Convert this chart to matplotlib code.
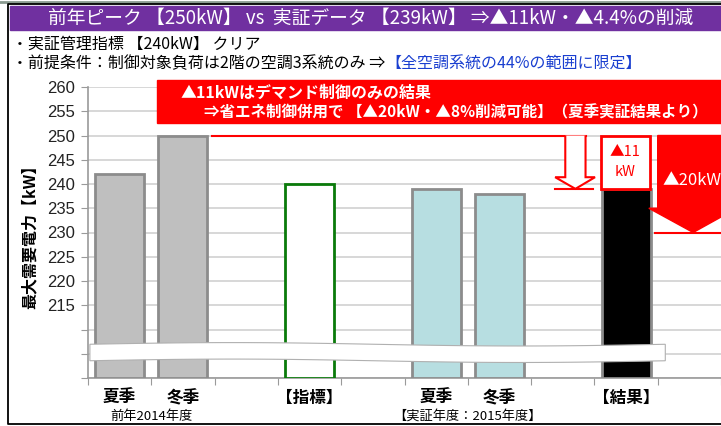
import numpy as np
import matplotlib
matplotlib.use("Agg")
import matplotlib.pyplot as plt
from matplotlib.patches import Rectangle, Polygon

plt.rcParams["font.family"] = ["Noto Sans CJK JP", "DejaVu Sans"]

# chart data
CATEGORIES = ["夏季", "冬季", "", "【指標】", "", "夏季", "冬季", "", "【結果】", ""]
BAR_POS = [0, 1, 3, 5, 6, 8]
BAR_VALUES = [242, 250, 240, 239, 238, 239]
BAR_FACE = ["#bfbfbf", "#bfbfbf", "#ffffff", "#b7dee1", "#b7dee1", "#000000"]
BAR_EDGE = ["#8c8c8c", "#8c8c8c", "#0a7a0a", "#8c8c8c", "#8c8c8c", "#8c8c8c"]
Y_TICKS = list(range(200, 261, 5))
Y_LABELS = [str(v) if v >= 215 else "" for v in Y_TICKS]
GROUP_LABELS = [(0.5, "前年2014年度"), (5.5, "【実証年度：2015年度】")]

PREV_PEAK = 250
RESULT = 239
TARGET_CUT = 20

TITLE = "前年ピーク 【250kW】 vs  実証データ 【239kW】 ⇒▲11kW・▲4.4%の削減"
LINE1 = "・実証管理指標 【240kW】 クリア"
LINE2 = "・前提条件：制御対象負荷は2階の空調3系統のみ ⇒"
LINE2_BLUE = "【全空調系統の44%の範囲に限定】"
RED_LINE1 = "▲11kWはデマンド制御のみの結果"
RED_LINE2 = "⇒省エネ制御併用で 【▲20kW・▲8%削減可能】（夏季実証結果より）"

W, H = 721, 426
fig = plt.figure(figsize=(W / 100, H / 100), dpi=100)

# overlay in pixel coordinates for the frame and header
ov = fig.add_axes([0, 0, 1, 1])
ov.set_xlim(0, W)
ov.set_ylim(H, 0)
ov.axis("off")

ov.plot([0, W], [1.5, 1.5], color="#8a9a90", lw=2)
ov.plot([W, 8, 8, W], [4, 4, 424, 424], color="black", lw=1.3)
ov.add_patch(Rectangle((10, 6), W - 10, 24, color="#7030a0"))
ov.text(371, 18, TITLE, color="white", fontsize=13.5, ha="center", va="center")
ov.text(12, 44, LINE1, fontsize=11.5, va="center")
t2 = ov.text(12, 64, LINE2, fontsize=11.5, va="center")
ov.annotate(LINE2_BLUE, xy=(1, 0), xycoords=t2, va="bottom", fontsize=11.5,
            color="#1a3fd0")

ax = fig.add_axes([88 / W, (H - 378) / H, 633 / W, 291 / H])
ax.set_zorder(2)
ax.patch.set_alpha(0)

ax.bar(BAR_POS, np.array(BAR_VALUES) - 200, bottom=200, width=0.775,
       color=BAR_FACE, edgecolor=BAR_EDGE, linewidth=2, zorder=3)

ax.set_xlim(-0.5, 9.5)
ax.set_ylim(200, 260)
ax.set_yticks(Y_TICKS)
ax.set_yticklabels(Y_LABELS, fontsize=12, color="#222222",
                   family=["Liberation Sans", "DejaVu Sans"])
ax.set_xticks(np.arange(-0.5, 10, 1))
ax.set_xticklabels([])
ax.set_xticks(np.arange(10), minor=True)
ax.set_xticklabels(CATEGORIES, minor=True, fontsize=12, fontweight="bold")
ax.tick_params(axis="x", which="minor", length=0, pad=8)
ax.tick_params(axis="x", which="major", length=5, color="#9a9a9a")
ax.tick_params(axis="y", length=5, color="#9a9a9a", pad=4)
ax.grid(axis="y", color="#d4d4d4", lw=1.3, zorder=0)
for s in ["top", "right"]:
    ax.spines[s].set_visible(False)
for s in ["left", "bottom"]:
    ax.spines[s].set_color("#9a9a9a")
    ax.spines[s].set_linewidth(1.2)

ax.set_ylabel("最大需要電力【kW】", fontsize=11.5, fontweight="bold")
ax.yaxis.set_label_coords(-50 / 633, 0.5)

for xc, lab in GROUP_LABELS:
    ax.annotate(lab, xy=(xc, 0), xycoords=("data", "axes fraction"),
                xytext=(0, -27.5), textcoords="offset points", ha="center",
                va="center", fontsize=9.5)

# axis break band
xs = np.linspace(-0.47, 8.62, 200)
mid = 205.25 + 0.35 * np.sin((xs + 0.5) / 9.1 * 2 * np.pi)
band = np.concatenate([np.c_[xs, mid + 1.7], np.c_[xs[::-1], mid[::-1] - 1.7]])
ax.add_patch(Polygon(band, closed=True, facecolor="white", edgecolor="#b0b0b0",
                     lw=0.8, zorder=5, clip_on=False))

# red banner over the plot
ov.set_zorder(3)
ov.add_patch(Rectangle((157, 80), W - 157, 43, color="#ff0000"))
ov.text(181, 93, RED_LINE1, color="white", fontsize=11.5, fontweight="bold",
        va="center")
ov.text(204, 112, RED_LINE2, color="white", fontsize=11.2, fontweight="bold",
        va="center")

# line at previous peak and hollow arrow down to result
ax.plot([1.46, 7.36], [PREV_PEAK, PREV_PEAK], color="red", lw=1.5, zorder=6)
hollow = [(7.04, PREV_PEAK), (7.04, 241.4), (6.88, 241.4), (7.2, RESULT),
          (7.51, 241.4), (7.36, 241.4), (7.36, PREV_PEAK)]
ax.add_patch(Polygon(hollow, closed=False, facecolor="white", edgecolor="red",
                     lw=1.5, zorder=6))
ax.plot([6.88, 7.48], [RESULT, RESULT], color="red", lw=1.5, zorder=6)

# box with the result reduction
ax.add_patch(Rectangle((7.6, RESULT), 0.78, PREV_PEAK - RESULT, facecolor="white",
                       edgecolor="red", lw=2, zorder=6))
ax.text(7.99, (PREV_PEAK + RESULT) / 2, "▲11\nkW", color="red", fontsize=10.5,
        ha="center", va="center", linespacing=1.5, zorder=7)

# solid arrow for the possible reduction
low = PREV_PEAK - TARGET_CUT
solid = [(8.5, PREV_PEAK), (8.5, 235), (8.36, 235), (9.06, low),
         (9.75, 235), (9.61, 235), (9.61, PREV_PEAK)]
ax.add_patch(Polygon(solid, closed=True, color="red", zorder=6, clip_on=False))
ax.plot([8.46, 9.7], [low, low], color="red", lw=1.5, zorder=6, clip_on=False)
ax.text(8.58, 240.8, "▲20kW", color="white", fontsize=12, va="center",
        zorder=7, clip_on=False)

fig.savefig("out.png", dpi=100)
